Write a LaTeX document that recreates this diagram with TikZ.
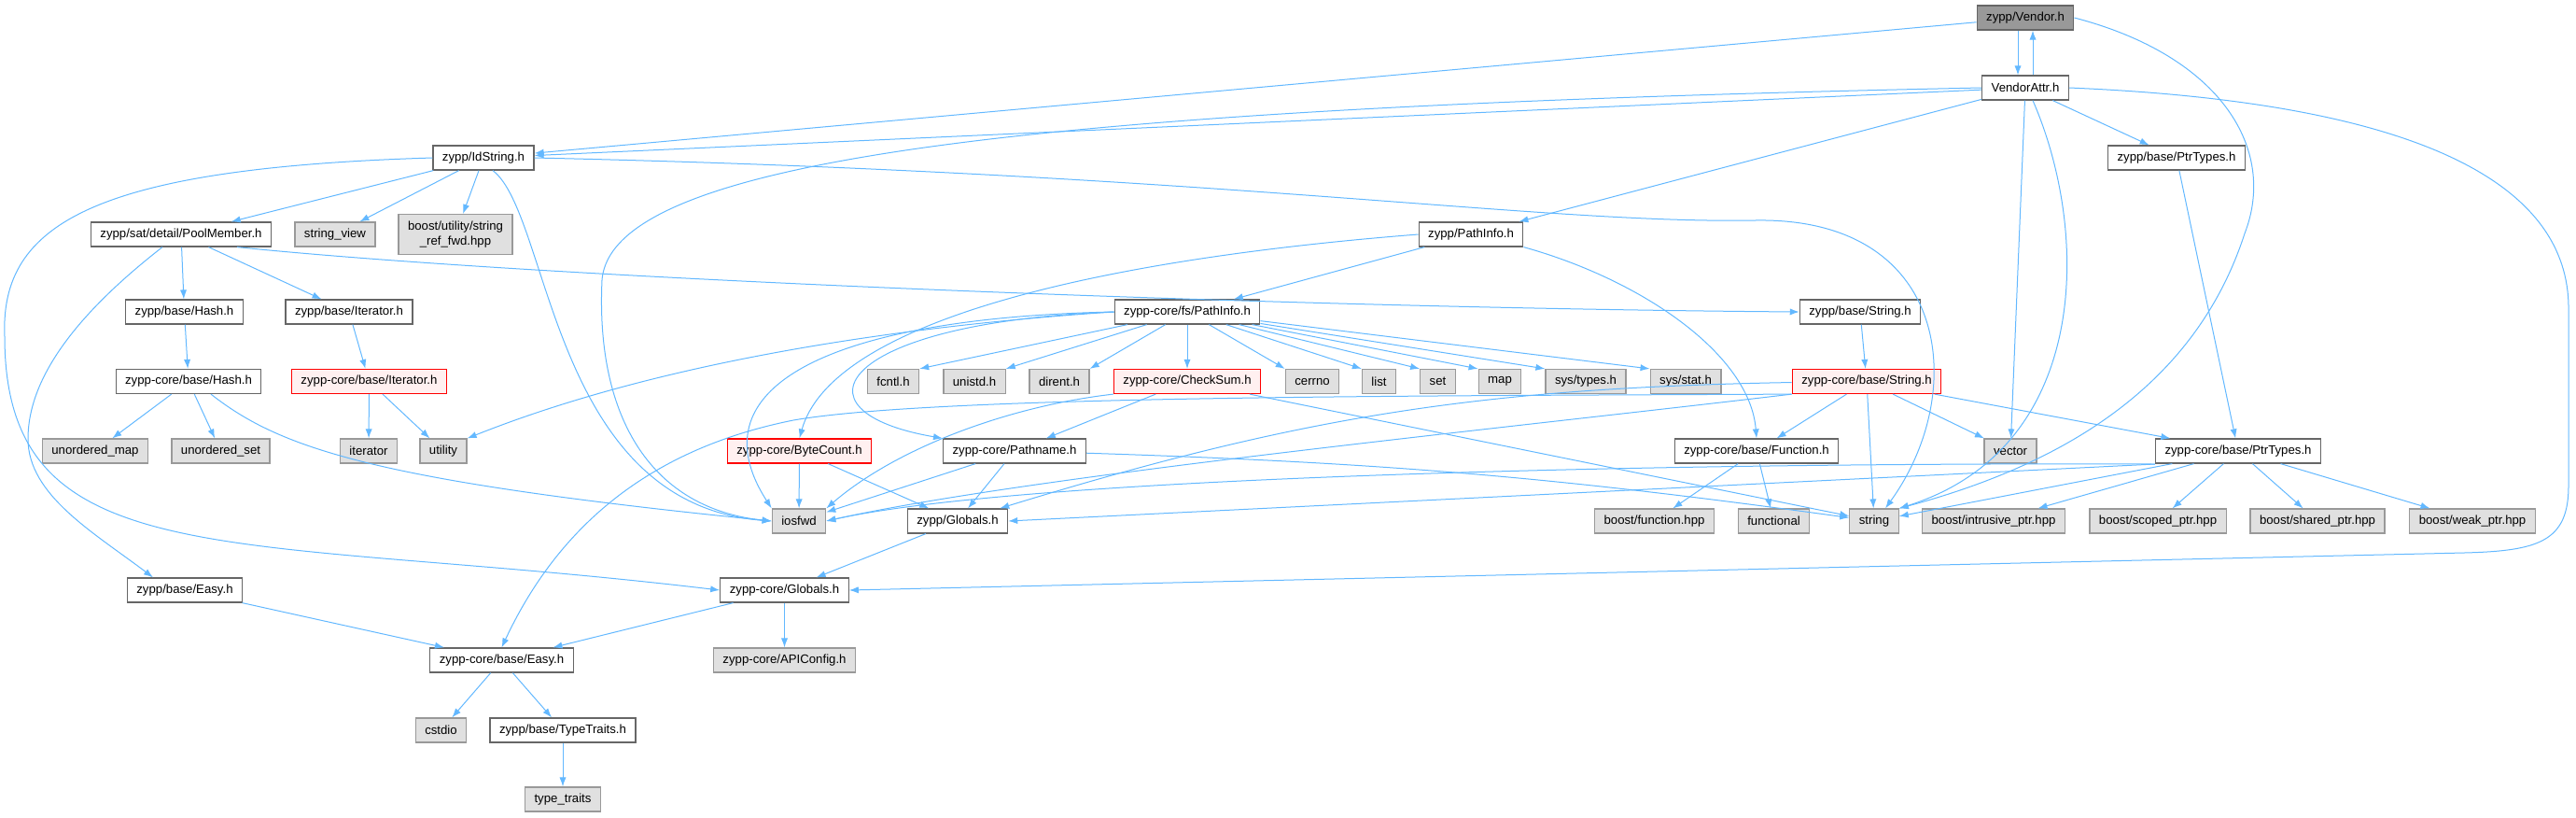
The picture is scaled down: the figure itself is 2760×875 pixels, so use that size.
\documentclass[tikz,border=0pt]{standalone}
\usepackage{fontspec}
\setmainfont{Liberation Sans}
\usepackage{tikz}
\usetikzlibrary{arrows,arrows.meta,shapes}
\definecolor{edgeblue}{HTML}{63B8FF}
\definecolor{boxline}{HTML}{666666}
\definecolor{sysfill}{HTML}{E0E0E0}
\definecolor{sysline}{HTML}{999999}
\definecolor{cutfill}{HTML}{FFF0F0}
\definecolor{mainfill}{HTML}{999999}
\tikzstyle{hdr}=[rectangle,draw=boxline,fill=white,line width=0.6pt,minimum height=13pt,inner xsep=5pt,inner ysep=1pt,font=\fontsize{6.6}{7.8}\selectfont]
\tikzstyle{sys}=[hdr,draw=sysline,fill=sysfill]
\tikzstyle{truncated}=[hdr,draw=red,fill=cutfill]
\tikzstyle{mainhdr}=[hdr,fill=mainfill]
\tikzstyle{edge} = [draw,thick,-]

\begin{document}
\begin{tikzpicture}[x=0.5pt,y=-0.5pt]
      \tikzset{edge/.style = {->,>={Latex[length=5pt,width=3.6pt]},draw=edgeblue,line width=0.5pt}}
      \useasboundingbox (0,0) rectangle (2760,875);
      % headers
      \node[mainhdr] (v) at (2170,19) {zypp/Vendor.h};
      \node[hdr] (va) at (2170,94) {VendorAttr.h};
      \node[hdr] (ids) at (518,169) {zypp/IdString.h};
      \node[hdr] (bptr) at (2332,169) {zypp/base/PtrTypes.h};
      \node[hdr] (pm) at (194,251) {zypp/sat/detail/PoolMember.h};
      \node[sys] (sv) at (359,251) {string\_view};
      \node[sys,align=center,minimum height=21.5pt] (sref) at (488,251) {boost/utility/string\\\_ref\_fwd.hpp};
      \node[hdr] (zpi) at (1576,251) {zypp/PathInfo.h};
      \node[hdr] (bhash) at (197.5,334) {zypp/base/Hash.h};
      \node[hdr] (bit) at (374,334) {zypp/base/Iterator.h};
      \node[hdr] (fpi) at (1272,334) {zypp-core/fs/PathInfo.h};
      \node[hdr] (bstr) at (1993,334) {zypp/base/String.h};
      \node[hdr] (chash) at (202,408.5) {zypp-core/base/Hash.h};
      \node[truncated] (cit) at (395.5,408.5) {zypp-core/base/Iterator.h};
      \node[sys] (fcntl) at (957,408.5) {fcntl.h};
      \node[sys] (unistd) at (1044,408.5) {unistd.h};
      \node[sys] (dirent) at (1135,408.5) {dirent.h};
      \node[truncated] (cks) at (1272,408.5) {zypp-core/CheckSum.h};
      \node[sys] (cerrno) at (1406,408.5) {cerrno};
      \node[sys] (list) at (1477.5,408.5) {list};
      \node[sys] (set) at (1540.5,408.5) {set};
      \node[sys] (map) at (1607,408.5) {map};
      \node[sys] (systypes) at (1699,408.5) {sys/types.h};
      \node[sys] (sysstat) at (1806,408.5) {sys/stat.h};
      \node[truncated] (cstr) at (2000,408.5) {zypp-core/base/String.h};
      \node[sys] (umap) at (102,483) {unordered\_map};
      \node[sys] (uset) at (236.5,483) {unordered\_set};
      \node[sys] (iter) at (395,483) {iterator};
      \node[sys] (util) at (475,483) {utility};
      \node[truncated] (bc) at (856.5,483) {zypp-core/ByteCount.h};
      \node[hdr] (pn) at (1087,483) {zypp-core/Pathname.h};
      \node[hdr] (func) at (1882,483) {zypp-core/base/Function.h};
      \node[sys] (vec) at (2154,483) {vector};
      \node[hdr] (cptr) at (2398,483) {zypp-core/base/PtrTypes.h};
      \node[sys] (iosfwd) at (856,558) {iosfwd};
      \node[hdr] (zglob) at (1026,558) {zypp/Globals.h};
      \node[sys] (bfun) at (1772.5,558) {boost/function.hpp};
      \node[sys] (functional) at (1900.5,558) {functional};
      \node[sys] (str) at (2008,558) {string};
      \node[sys] (intr) at (2136,558) {boost/intrusive\_ptr.hpp};
      \node[sys] (scoped) at (2312,558) {boost/scoped\_ptr.hpp};
      \node[sys] (shared) at (2483,558) {boost/shared\_ptr.hpp};
      \node[sys] (weak) at (2649,558) {boost/weak\_ptr.hpp};
      \node[hdr] (zbeasy) at (198,632) {zypp/base/Easy.h};
      \node[hdr] (cglob) at (840.5,632) {zypp-core/Globals.h};
      \node[hdr] (ceasy) at (537.5,707) {zypp-core/base/Easy.h};
      \node[sys] (api) at (840.5,707) {zypp-core/APIConfig.h};
      \node[sys] (cstdio) at (472.5,782) {cstdio};
      \node[hdr] (tt) at (603,782) {zypp/base/TypeTraits.h};
      \node[sys] (ttraits) at (603,856) {type\_traits};
      % includes
      \draw[edge] ([xshift=-4pt]v.south) to ([xshift=-4pt]va.north);
      \draw[edge] ([xshift=4pt]va.north) to ([xshift=4pt]v.south);
      \draw[edge] (v) to (ids);
      \draw[edge] (v.east) .. controls (2380,60) and (2440,160) .. (2405,250) .. controls (2350,420) and (2200,500) .. (str.north east);
      \draw[edge] (va) to (ids);
      \draw[edge] (va.west) .. controls (1100,115) and (655,170) .. (645,300) .. controls (638,450) and (700,545) .. (iosfwd.west);
      \draw[edge] (va) to (zpi);
      \draw[edge] (va) to (bptr);
      \draw[edge] (va) to (vec);
      \draw[edge] ([xshift=4pt]va.south) .. controls (2240,250) and (2240,480) .. (str.north east);
      \draw[edge] (va.east) .. controls (2600,110) and (2752,200) .. (2752,330) -- (2752,520) .. controls (2752,580) and (2720,590) .. (2640,592) -- (cglob.east);
      \draw[edge] (ids) to (pm);
      \draw[edge] (ids) to (sv);
      \draw[edge] (ids) to (sref);
      \draw[edge] ([xshift=5pt]ids.south) .. controls (590,230) and (590,540) .. (iosfwd.west);
      \draw[edge] (ids.east) .. controls (1300,185) and (1650,240) .. (1880,236) .. controls (2090,232) and (2110,420) .. ([xshift=6pt]str.north);
      \draw[edge] (ids.west) .. controls (100,180) and (0,240) .. (5,360) .. controls (5,620) and (250,570) .. (cglob.west);
      \draw[edge] (pm) to (bhash);
      \draw[edge] (pm) to (bit);
      \draw[edge] ([xshift=30pt]pm.south) .. controls (600,300) and (1400,330) .. (bstr.west);
      \draw[edge] ([xshift=-10pt]pm.south) .. controls (90,330) and (30,400) .. (30,470) .. controls (30,530) and (100,570) .. ([xshift=-17pt]zbeasy.north);
      \draw[edge] (bhash) to (chash);
      \draw[edge] (bit) to (cit);
      \draw[edge] (chash) to (umap);
      \draw[edge] (chash) to (uset);
      \draw[edge] ([xshift=12pt]chash.south) .. controls (300,480) and (400,515) .. (iosfwd.west);
      \draw[edge] (cit) to (iter);
      \draw[edge] (cit) to (util);
      \draw[edge] (zpi) to (fpi);
      \draw[edge] (zpi.west) .. controls (1150,280) and (890,350) .. (bc.north);
      \draw[edge] (zpi.south east) .. controls (1760,300) and (1875,380) .. (func.north);
      \draw[edge] (fpi.west) .. controls (950,350) and (700,390) .. (util.north east);
      \draw[edge] (fpi.west) .. controls (900,340) and (740,410) .. (iosfwd.north west);
      \draw[edge] (fpi.west) .. controls (900,345) and (840,440) .. (pn.north west);
      \draw[edge] (fpi) to (fcntl.north east);
      \draw[edge] (fpi) to (unistd.north east);
      \draw[edge] (fpi) to (dirent.north east);
      \draw[edge] (fpi) to (cks);
      \draw[edge] (fpi) to (cerrno.north west);
      \draw[edge] (fpi) to (list.north west);
      \draw[edge] (fpi) to (set.north west);
      \draw[edge] (fpi) to (map.north west);
      \draw[edge] (fpi) to (systypes.north west);
      \draw[edge] (fpi) to (sysstat.north west);
      \draw[edge] (cks) to (pn);
      \draw[edge] (cks.south west) .. controls (1080,435) and (960,480) .. (iosfwd.north east);
      \draw[edge] (cks) to (str);
      \draw[edge] (bc) to (iosfwd);
      \draw[edge] (bc) to (zglob);
      \draw[edge] (pn) to (iosfwd);
      \draw[edge] (pn) to (zglob);
      \draw[edge] (pn) to[bend left=3] (str);
      \draw[edge] (zglob) to (cglob);
      \draw[edge] (cglob) to (ceasy);
      \draw[edge] (cglob) to (api);
      \draw[edge] (zbeasy) to (ceasy);
      \draw[edge] (ceasy) to (cstdio);
      \draw[edge] (ceasy) to (tt);
      \draw[edge] (tt) to (ttraits);
      \draw[edge] (bstr) to (cstr);
      \draw[edge] (cstr) to (func);
      \draw[edge] (cstr) to (str);
      \draw[edge] (cstr) to (vec);
      \draw[edge] (cstr) to (cptr);
      \draw[edge] (cstr.south west) .. controls (1600,460) and (1100,510) .. (iosfwd.east);
      \draw[edge] (cstr) to[bend right=8] (zglob);
      \draw[edge] (cstr.south west) .. controls (1500,424) and (1000,424) .. (850,450) .. controls (700,480) and (600,560) .. (ceasy.north);
      \draw[edge] (bptr) to (cptr);
      \draw[edge] ([yshift=-7pt]cptr.west) .. controls (1800,495) and (1100,510) .. (iosfwd.east);
      \draw[edge] ([yshift=-7pt]cptr.west) to (zglob.east);
      \draw[edge] (cptr) to (str);
      \draw[edge] (cptr) to (intr);
      \draw[edge] (cptr) to (scoped);
      \draw[edge] (cptr) to (shared);
      \draw[edge] (cptr) to (weak);
      \draw[edge] (func) to (bfun);
      \draw[edge] (func) to (functional);
\end{tikzpicture}
\end{document}
